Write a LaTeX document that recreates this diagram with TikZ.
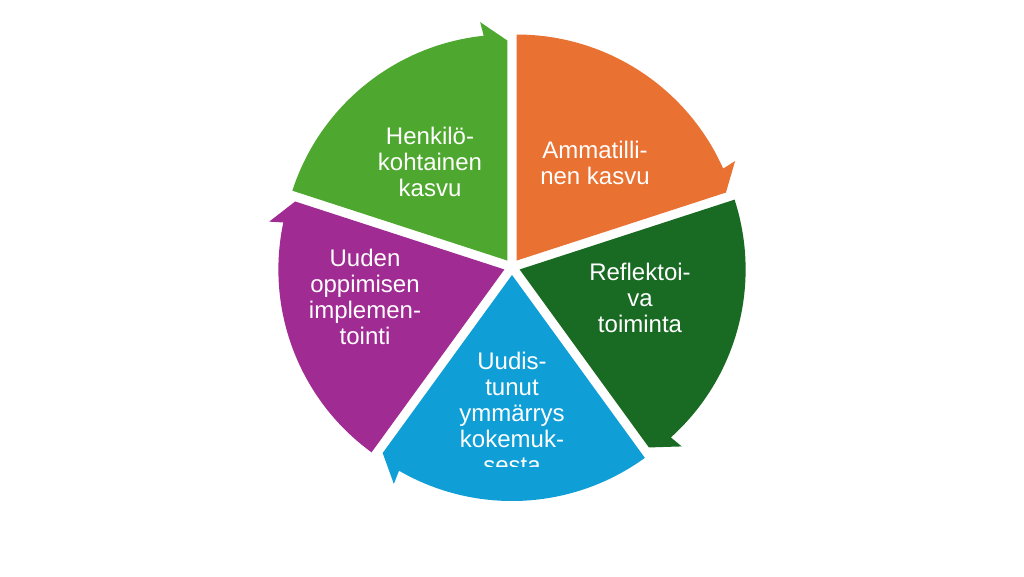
\documentclass[tikz,border=0pt]{standalone}
\usepackage{fontspec}
\setmainfont{Liberation Sans}
\definecolor{cor}{HTML}{E97132}
\definecolor{cdg}{HTML}{196B24}
\definecolor{cbl}{HTML}{0F9ED5}
\definecolor{cpu}{HTML}{A02B93}
\definecolor{clg}{HTML}{4EA72E}
\tikzset{lbl/.style={text=white,align=center,font=\fontsize{24}{26}\selectfont}}
\newcommand{\seg}[3]{% start angle, end angle, colour
  \pgfmathsetmacro{\mid}{(#1+#2)/2}
  \begin{scope}[shift={(\mid:8)}]
  \fill[#3] (0,0) -- (#1:226) arc[start angle=#1,end angle=#2+6,radius=226]
    -- (#2+6.5:240) -- (#2:220) -- cycle;
  \end{scope}}
\begin{document}
\begin{tikzpicture}[x=1pt,y=1pt]
\useasboundingbox (0,0) rectangle (1024,576);
\fill[white] (0,0) rectangle (1024,576);
\begin{scope}[shift={(512,309)}]
\seg{90}{18}{cor}
\seg{18}{-54}{cdg}
\seg{-54}{-126}{cbl}
\seg{-126}{-198}{cpu}
\seg{162}{90}{clg}
\end{scope}
\node[lbl] (t1) at (595,413) {Ammatilli-\\nen kasvu};
\node[lbl] (t2) at (640,278) {Reflektoi-\\va\\toiminta};
\node[lbl] (t4) at (365,279) {Uuden\\oppimisen\\implemen-\\tointi};
\node[lbl] (t5) at (430,414) {Henkilö-\\kohtainen\\kasvu};
\begin{scope}
\clip (300,110) rectangle (700,300);
\node[lbl] (t3) at (512,163) {Uudis-\\tunut\\ymmärrys\\kokemuk-\\sesta};
\end{scope}
\end{tikzpicture}
\end{document}
